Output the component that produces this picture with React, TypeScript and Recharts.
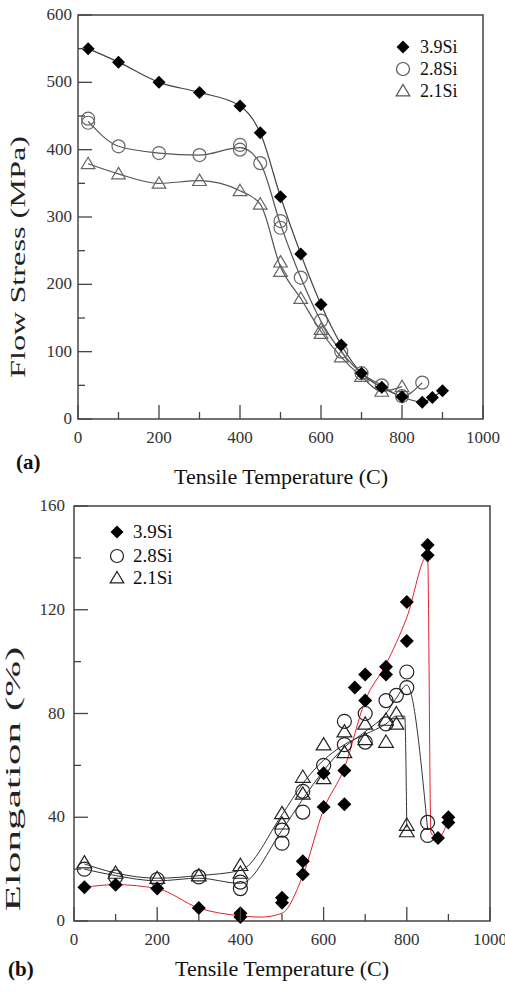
import React from 'react';
import { ComposedChart, Line, Scatter, XAxis, YAxis, ReferenceArea } from 'recharts';

// (a) flow stress, MPa
const stressTemp39 = [25, 100, 200, 300, 400, 450, 500, 550, 600, 650, 700, 750, 800, 850, 875, 900];
const stress39 = [550, 530, 500, 485, 465, 425, 330, 245, 170, 110, 68, 47, 33, 25, 32, 42];

const stressTemp28 = [25, 25, 100, 200, 300, 400, 400, 450, 500, 500, 550, 600, 650, 700, 750, 800, 850];
const stress28 = [446, 440, 405, 395, 392, 407, 400, 380, 294, 284, 210, 146, 100, 68, 50, 34, 54];

const stressTemp21 = [25, 100, 200, 300, 400, 450, 500, 500, 550, 600, 600, 650, 700, 750, 800];
const stress21 = [379, 364, 350, 354, 339, 319, 233, 219, 179, 133, 127, 92, 63, 41, 48];

// smoothed curves drawn through the (a) data
const stressCurveTemp28 = [25, 100, 200, 300, 400, 450, 500, 550, 600, 650, 700, 750, 800, 850];
const stressCurve28 = [442, 405, 395, 392, 403, 380, 289, 210, 145, 100, 68, 50, 34, 54];
const stressCurveTemp21 = [25, 100, 200, 300, 400, 450, 500, 550, 600, 650, 700, 750, 800];
const stressCurve21 = [379, 364, 350, 354, 339, 319, 226, 179, 130, 92, 63, 41, 48];

// (b) elongation, %
const elongTemp39 = [25, 100, 200, 300, 400, 400, 500, 500, 550, 550, 600, 600, 650, 650, 675, 700, 700, 750, 750, 800, 800, 850, 850, 875, 900, 900];
const elong39 = [13, 14, 12.5, 5, 3, 1.5, 9, 7, 23, 18, 57, 44, 58, 45, 90, 95, 85, 98, 95, 123, 108, 145, 141, 32, 40, 38];

const elongTemp28 = [25, 100, 200, 300, 400, 400, 500, 500, 550, 550, 600, 650, 650, 700, 700, 750, 750, 775, 800, 800, 850, 850];
const elong28 = [20, 17, 16, 17, 15, 12.5, 35, 30, 50, 42, 60, 77, 68, 80, 69, 85, 76, 87, 96, 90, 38, 33];

const elongTemp21 = [25, 100, 200, 300, 400, 400, 500, 500, 550, 550, 600, 600, 650, 650, 700, 700, 750, 750, 775, 775, 800, 800];
const elong21 = [22.5, 18.5, 16.5, 17.5, 21.5, 18.5, 41.5, 37.5, 55.5, 49, 68, 55, 73, 65, 76, 70, 77.5, 69, 80, 76, 37, 34.5];

const elongCurveTemp39 = [25, 100, 200, 300, 400, 450, 500, 550, 600, 650, 700, 750, 800, 850, 858, 875, 900];
const elongCurve39 = [13, 14, 12.5, 5, 2, 1.5, 3, 17.5, 43, 59, 85, 99, 117, 141, 34, 32, 39];
const elongCurveTemp28 = [25, 100, 200, 300, 400, 500, 550, 600, 650, 700, 750, 775, 800, 850];
const elongCurve28 = [20, 17.5, 15.5, 16.5, 14.5, 35, 47, 58, 67, 73, 80, 86, 91, 35.5];
const elongCurveTemp21 = [25, 100, 200, 300, 400, 500, 550, 600, 650, 700, 750, 775, 795, 800];
const elongCurve21 = [22, 18.5, 16.5, 17.5, 19.5, 41, 53, 62, 68, 72, 76, 79, 79, 36];

const tempTicks = [0, 100, 200, 300, 400, 500, 600, 700, 800, 900, 1000];
const stressTicks = [0, 50, 100, 150, 200, 250, 300, 350, 400, 450, 500, 550, 600];
const elongTicks = [0, 20, 40, 60, 80, 100, 120, 140, 160];
const seriesNames = ['3.9Si', '2.8Si', '2.1Si'];

const FONT = '"Liberation Serif", "Times New Roman", serif';
const AXIS = '#444';

const pts = (t: number[], v: number[]) => t.map((x, i) => ({ t: x, v: v[i] }));

type Mark = 'diamond' | 'circle' | 'triangle';

const Marker = ({ kind, cx, cy, r, color }: { kind: Mark; cx: number; cy: number; r: number; color: string }) => {
  if (kind === 'diamond') {
    return <polygon points={`${cx},${cy - r} ${cx + r},${cy} ${cx},${cy + r} ${cx - r},${cy}`} fill="#000" />;
  }
  if (kind === 'circle') {
    return <circle cx={cx} cy={cy} r={r} fill="none" stroke={color} strokeWidth={1.2} />;
  }
  return (
    <polygon
      points={`${cx},${cy - r} ${cx + r * 1.05},${cy + r * 0.75} ${cx - r * 1.05},${cy + r * 0.75}`}
      fill="none"
      stroke={color}
      strokeWidth={1.2}
    />
  );
};

const shape = (kind: Mark, r: number, color: string) => (p: any) =>
  <Marker kind={kind} cx={p.cx} cy={p.cy} r={r} color={color} />;

// inward ticks, labels only on the major ones
const xTick = (bottom: number) => (p: any) => {
  const v = p.payload.value;
  const major = v % 200 === 0;
  return (
    <g>
      <line x1={p.x} x2={p.x} y1={bottom} y2={bottom - (major ? 14 : 7)} stroke={AXIS} strokeWidth={1.3} />
      {major && (
        <text x={p.x} y={bottom + 24} textAnchor="middle" fontFamily={FONT} fontSize={17} fill="#333">
          {v}
        </text>
      )}
    </g>
  );
};

const yTick = (left: number, step: number, gap: number) => (p: any) => {
  const v = p.payload.value;
  const major = v % step === 0;
  return (
    <g>
      <line x1={left} x2={left + (major ? 14 : 7)} y1={p.y} y2={p.y} stroke={AXIS} strokeWidth={1.3} />
      {major && (
        <text x={left - gap} y={p.y + 5} textAnchor="end" fontFamily={FONT} fontSize={17} fill="#333">
          {v}
        </text>
      )}
    </g>
  );
};

const legend = (x: number, textX: number, rows: number[], size: number, r: number, color: string) => (
  <g>
    {(['diamond', 'circle', 'triangle'] as Mark[]).map((k, i) => (
      <g key={k}>
        <Marker kind={k} cx={x} cy={rows[i]} r={r} color={color} />
        <text x={textX} y={rows[i] + size * 0.34} fontFamily={FONT} fontSize={size} fill="#111">
          {seriesNames[i]}
        </text>
      </g>
    ))}
  </g>
);

// rotated axis title, stretched along its length
const sideTitle = (text: string, x: number, y: number, len: number) => (
  <text
    transform={`translate(${x},${y}) rotate(-90)`}
    textAnchor="middle"
    textLength={len}
    lengthAdjust="spacingAndGlyphs"
    fontFamily={FONT}
    fontSize={20}
    fill="#222"
  >
    {text}
  </text>
);

const StressChart = () => (
  <ComposedChart width={505} height={490} margin={{ top: 15, right: 22, bottom: 41, left: 0 }}>
    <XAxis
      type="number"
      dataKey="t"
      domain={[0, 1000]}
      ticks={tempTicks}
      interval={0}
      axisLine={false}
      tickLine={false}
      height={30}
      tick={xTick(419)}
      label={() => (
        <g>
          <text x={16} y={469} fontFamily={FONT} fontSize={21} fontWeight="bold" fill="#111">(a)</text>
          <text x={281} y={484} textAnchor="middle" fontFamily={FONT} fontSize={22} fill="#111">
            Tensile Temperature (C)
          </text>
        </g>
      )}
    />
    <YAxis
      type="number"
      dataKey="v"
      domain={[0, 600]}
      ticks={stressTicks}
      interval={0}
      axisLine={false}
      tickLine={false}
      width={78}
      tick={yTick(78, 100, 6)}
      label={() => (
        <g>
          {sideTitle('Flow Stress (MPa)', 25, 257, 242)}
          {legend(403, 420, [47, 69, 91], 18, 6.5, '#555')}
        </g>
      )}
    />
    <ReferenceArea x1={0} x2={1000} y1={0} y2={600} fill="none" stroke={AXIS} strokeWidth={1.5} />
    <Line data={pts(stressTemp39, stress39)} dataKey="v" type="monotone" stroke="#444" strokeWidth={1.2} dot={false} activeDot={false} legendType="none" isAnimationActive={false} />
    <Line data={pts(stressCurveTemp28, stressCurve28)} dataKey="v" type="monotone" stroke="#555" strokeWidth={1.2} dot={false} activeDot={false} legendType="none" isAnimationActive={false} />
    <Line data={pts(stressCurveTemp21, stressCurve21)} dataKey="v" type="monotone" stroke="#555" strokeWidth={1.2} dot={false} activeDot={false} legendType="none" isAnimationActive={false} />
    <Scatter name="2.1Si" data={pts(stressTemp21, stress21)} shape={shape('triangle', 6.5, '#666')} isAnimationActive={false} />
    <Scatter name="2.8Si" data={pts(stressTemp28, stress28)} shape={shape('circle', 6.5, '#666')} isAnimationActive={false} />
    <Scatter name="3.9Si" data={pts(stressTemp39, stress39)} shape={shape('diamond', 6.5, '#000')} isAnimationActive={false} />
  </ComposedChart>
);

const ElongationChart = () => (
  <ComposedChart width={505} height={506} margin={{ top: 16, right: 15, bottom: 45, left: 0 }}>
    <XAxis
      type="number"
      dataKey="t"
      domain={[0, 1000]}
      ticks={tempTicks}
      interval={0}
      axisLine={false}
      tickLine={false}
      height={30}
      tick={xTick(431)}
      label={() => (
        <g>
          <text x={8} y={486} fontFamily={FONT} fontSize={21} fontWeight="bold" fill="#111">(b)</text>
          <text x={282} y={486} textAnchor="middle" fontFamily={FONT} fontSize={22} fill="#111">
            Tensile Temperature (C)
          </text>
        </g>
      )}
    />
    <YAxis
      type="number"
      dataKey="v"
      domain={[0, 160]}
      ticks={elongTicks}
      interval={0}
      axisLine={false}
      tickLine={false}
      width={74}
      tick={yTick(74, 40, 9)}
      label={() => (
        <g>
          {sideTitle('Elongation (%)', 20, 289, 265)}
          {legend(117, 133, [42, 66, 88], 19, 6.5, '#222')}
        </g>
      )}
    />
    <ReferenceArea x1={0} x2={1000} y1={0} y2={160} fill="none" stroke={AXIS} strokeWidth={1.5} />
    <Line data={pts(elongCurveTemp28, elongCurve28)} dataKey="v" type="monotone" stroke="#333" strokeWidth={1} dot={false} activeDot={false} legendType="none" isAnimationActive={false} />
    <Line data={pts(elongCurveTemp21, elongCurve21)} dataKey="v" type="monotone" stroke="#333" strokeWidth={1} dot={false} activeDot={false} legendType="none" isAnimationActive={false} />
    <Line data={pts(elongCurveTemp39, elongCurve39)} dataKey="v" type="monotone" stroke="#e3202a" strokeWidth={1} dot={false} activeDot={false} legendType="none" isAnimationActive={false} />
    <Scatter name="2.1Si" data={pts(elongTemp21, elong21)} shape={shape('triangle', 7, '#222')} isAnimationActive={false} />
    <Scatter name="2.8Si" data={pts(elongTemp28, elong28)} shape={shape('circle', 7, '#222')} isAnimationActive={false} />
    <Scatter name="3.9Si" data={pts(elongTemp39, elong39)} shape={shape('diamond', 7, '#000')} isAnimationActive={false} />
  </ComposedChart>
);

export default function App() {
  return (
    <div style={{ position: 'absolute', left: 0, top: 0, width: 505, height: 996, background: '#fff' }}>
      <div style={{ position: 'absolute', left: 0, top: 0 }}>
        <StressChart />
      </div>
      <div style={{ position: 'absolute', left: 0, top: 490 }}>
        <ElongationChart />
      </div>
    </div>
  );
}
